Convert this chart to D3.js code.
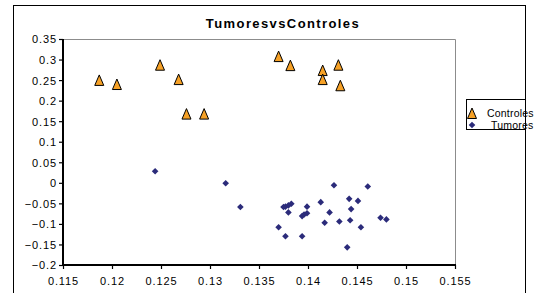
<!DOCTYPE html>
<html>
<head>
<meta charset="utf-8">
<script src="https://cdn.jsdelivr.net/npm/d3@7"></script>
<style>
  body { margin: 0; background: #fff; }
  text { font-family: "Liberation Sans", Arial, sans-serif; }
</style>
</head>
<body>
<script>
// values
var ctrlX = [0.1187, 0.1205, 0.1249, 0.1268, 0.1276, 0.1294, 0.1370, 0.1382, 0.1415, 0.1415, 0.1431, 0.1433];
var ctrlY = [0.248, 0.238, 0.285, 0.250, 0.166, 0.166, 0.306, 0.284, 0.272, 0.250, 0.285, 0.235];

var tumX = [0.1244, 0.1316, 0.1331, 0.14265, 0.1461, 0.1442, 0.1451, 0.1413, 0.1383, 0.1380,
            0.1377, 0.1375, 0.1399, 0.1444, 0.1380, 0.1422, 0.1399, 0.1396, 0.1394, 0.1474,
            0.1480, 0.1432, 0.1443, 0.1417, 0.1370, 0.1454, 0.1377, 0.1394, 0.1440];
var tumY = [0.028, -0.001, -0.059, -0.006, -0.009, -0.039, -0.044, -0.047, -0.051, -0.055,
            -0.058, -0.059, -0.058, -0.064, -0.072, -0.072, -0.074, -0.077, -0.081, -0.085,
            -0.089, -0.094, -0.091, -0.097, -0.108, -0.108, -0.130, -0.130, -0.157];

var xTicks = [0.115, 0.12, 0.125, 0.13, 0.135, 0.14, 0.145, 0.15, 0.155];
var yTicks = [-0.2, -0.15, -0.1, -0.05, 0, 0.05, 0.1, 0.15, 0.2, 0.25, 0.3, 0.35];
var seriesNames = ["Controles", "Tumores"];
var title = "TumoresvsControles";

var W = 538, H = 293;
var plot = {left: 63, top: 39, right: 455, bottom: 265};

var svg = d3.select("body").append("svg")
  .attr("width", W)
  .attr("height", H)
  .style("display", "block");

svg.append("rect").attr("width", W).attr("height", H).attr("fill", "#fff");

// outer chart frame (runs off the bottom)
svg.append("rect")
  .attr("x", 13.5).attr("y", 5.5)
  .attr("width", 512).attr("height", 300)
  .attr("fill", "none")
  .attr("stroke", "#000")
  .attr("stroke-width", 1);

var x = d3.scaleLinear().domain([0.115, 0.155]).range([plot.left, plot.right]);
var y = d3.scaleLinear().domain([-0.2, 0.35]).range([plot.bottom, plot.top]);

// plot area border: grey top/right
svg.append("path")
  .attr("d", "M" + plot.left + "," + (plot.top + 0.5) + "H" + (plot.right + 0.5) + "V" + plot.bottom)
  .attr("fill", "none")
  .attr("stroke", "#8c8c8c")
  .attr("stroke-width", 1);

// title
svg.append("text")
  .attr("x", 283)
  .attr("y", 28)
  .attr("text-anchor", "middle")
  .attr("font-size", "13px")
  .attr("font-weight", "bold")
  .attr("letter-spacing", "1.4px")
  .text(title);

// axes
var yAxis = svg.append("g")
  .attr("transform", "translate(" + plot.left + ",0)")
  .call(d3.axisLeft(y).tickValues(yTicks).tickSize(4).tickPadding(2).tickFormat(d3.format("")));
var xAxis = svg.append("g")
  .attr("transform", "translate(0," + plot.bottom + ")")
  .call(d3.axisBottom(x).tickValues(xTicks).tickSize(4).tickPadding(8).tickFormat(d3.format("")));

[xAxis, yAxis].forEach(function(g){
  g.select(".domain").remove();
  g.selectAll("line").attr("stroke", "#000").attr("stroke-width", 1.2);
  g.selectAll("text")
    .attr("fill", "#000")
    .attr("font-size", "11px")
    .attr("letter-spacing", "0.9px")
    .style("font-family", "'Liberation Sans', Arial, sans-serif");
});
yAxis.selectAll("text").attr("dy", "0.36em");

// black axis lines
svg.append("line")
  .attr("x1", plot.left).attr("x2", plot.left)
  .attr("y1", plot.top).attr("y2", plot.bottom + 1)
  .attr("stroke", "#000").attr("stroke-width", 2);
svg.append("line")
  .attr("x1", plot.left - 1).attr("x2", plot.right + 1)
  .attr("y1", plot.bottom).attr("y2", plot.bottom)
  .attr("stroke", "#000").attr("stroke-width", 2);

var triPath = "M0,-6L4.5,4.5L-4.5,4.5Z";
var diamondPath = "M0,-3.3L3.3,0L0,3.3L-3.3,0Z";
var triFill = "#f6a126", dotFill = "#2b2b7a";

// Tumores
svg.append("g").selectAll("path").data(d3.range(tumX.length)).enter().append("path")
  .attr("d", diamondPath)
  .attr("transform", function(i){ return "translate(" + x(tumX[i]) + "," + y(tumY[i]) + ")"; })
  .attr("fill", dotFill);

// Controles
svg.append("g").selectAll("path").data(d3.range(ctrlX.length)).enter().append("path")
  .attr("d", triPath)
  .attr("transform", function(i){ return "translate(" + x(ctrlX[i]) + "," + y(ctrlY[i]) + ")"; })
  .attr("fill", triFill)
  .attr("stroke", "#000")
  .attr("stroke-width", 1);

// legend
var lg = svg.append("g");
lg.append("rect")
  .attr("x", 466.5).attr("y", 99.5)
  .attr("width", 59).attr("height", 30)
  .attr("fill", "#fff")
  .attr("stroke", "#000");
lg.append("path").attr("d", triPath).attr("transform", "translate(472,114)")
  .attr("fill", triFill).attr("stroke", "#000");
lg.append("path").attr("d", diamondPath).attr("transform", "translate(472,125)")
  .attr("fill", dotFill);
lg.selectAll("text.lbl").data(seriesNames).enter().append("text")
  .attr("class", "lbl")
  .attr("x", function(d, i){ return i === 0 ? 487 : 491; })
  .attr("y", function(d, i){ return 117 + i * 12; })
  .attr("font-size", "10.5px")
  .attr("letter-spacing", "0.2px")
  .text(function(d){ return d; });
</script>
</body>
</html>
